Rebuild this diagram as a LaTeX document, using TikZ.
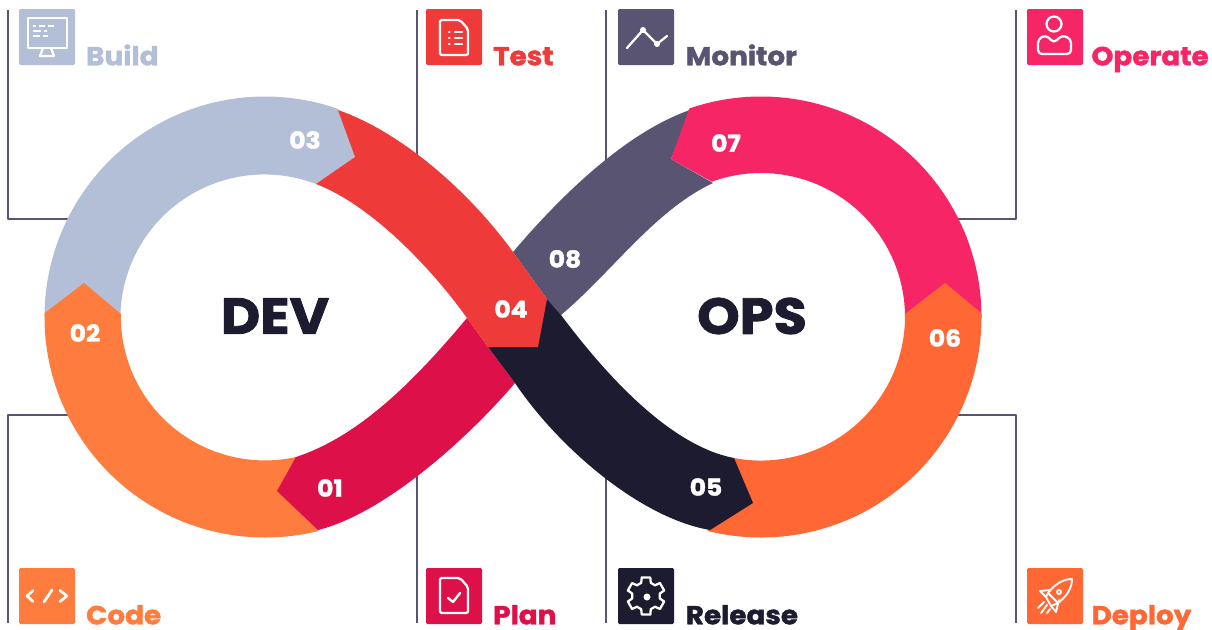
\documentclass[tikz,border=0pt]{standalone}
\usepackage{fontspec}
\usepackage{tikz}
\usetikzlibrary{positioning}
\setmainfont{Poppins}[BoldFeatures={FakeBold=1.6,FakeStretch=1.07}]

\definecolor{planc}{HTML}{DE1049}
\definecolor{codec}{HTML}{FE7C3E}
\definecolor{buildc}{HTML}{B3BFD6}
\definecolor{testc}{HTML}{EE3A38}
\definecolor{releasec}{HTML}{1C1B30}
\definecolor{deployc}{HTML}{FF6735}
\definecolor{operatec}{HTML}{F62565}
\definecolor{monitorc}{HTML}{585472}

\begin{document}
\begin{tikzpicture}[x=.75pt,y=-.75pt,font=\bfseries,line join=round]

\tikzstyle{stepbox}=[draw=none,rounded corners=1pt,minimum size=42pt,inner sep=0pt]
\tikzstyle{steplbl}=[inner sep=0pt,font=\fontsize{19.5}{20}\bfseries]
\tikzstyle{stepnum}=[inner sep=0pt,text=white,font=\fontsize{17.5}{18}\bfseries]
\tikzstyle{sidelbl}=[inner sep=0pt,text=releasec,font=\fontsize{38}{40}\bfseries]
\tikzstyle{leader}=[draw=monitorc,line width=1.1pt]
\tikzstyle{icon}=[draw=white,line width=1.7pt,line cap=round]

\useasboundingbox (0,0) rectangle (1212,629);
\fill[white] (0,0) rectangle (1212,629);

\coordinate (devc) at (265,317);
\coordinate (opsc) at (761,317);

% leader lines
\coordinate (buildtop) at (8,10);       \coordinate (buildend) at (70,219);
\coordinate (codebot) at (8,623);       \coordinate (codeend) at (70,415);
\coordinate (testtop) at (417,10);      \coordinate (testend) at (417,160);
\coordinate (planbot) at (417,623);     \coordinate (planend) at (417,474);
\coordinate (monitortop) at (606,10);   \coordinate (monitorend) at (606,162);
\coordinate (releasebot) at (606,623);  \coordinate (releaseend) at (606,474);
\coordinate (operatetop) at (1016,10);  \coordinate (operateend) at (956,219);
\coordinate (deploybot) at (1016,623);  \coordinate (deployend) at (956,415);
\draw[leader] (buildtop) |- (buildend);
\draw[leader] (codebot) |- (codeend);
\draw[leader] (testtop) -- (testend);
\draw[leader] (planbot) -- (planend);
\draw[leader] (monitortop) -- (monitorend);
\draw[leader] (releasebot) -- (releaseend);
\draw[leader] (operatetop) |- (operateend);
\draw[leader] (deploybot) |- (deployend);

% the loop, back to front
\fill[monitorc] (690,110) .. controls (624,133) and (558,199) .. (513,252) -- (547,299) -- (561,315)
  .. controls (612,272) and (655,210) .. (713,183) -- (671,159) -- cycle;
\fill[operatec] ([shift={(-109:220.5)}]opsc) arc[start angle=-109,end angle=0,radius=220.5]
  -- ([shift={(0:144)}]opsc) arc[start angle=0,end angle=-110,radius=144] -- (671,159) -- cycle;
\fill[buildc] ([shift={(-180:220.5)}]devc) arc[start angle=-180,end angle=-70.6,radius=220.5]
  -- (355,157) -- (316,184) arc[start angle=-69,end angle=-180,radius=144] -- cycle;
\fill[codec] (84,283) -- ([shift={(181:220.5)}]devc) arc[start angle=181,end angle=76,radius=220.5]
  -- (296,457) arc[start angle=77.5,end angle=181,radius=144] -- cycle;
\fill[planc] (277,491) -- (318,530) .. controls (386,513) and (470,436) .. (515,383) -- (488,347) -- (467,318)
  .. controls (415,380) and (360,436) .. (296,457) -- cycle;
\fill[deployc] (945,283) -- ([shift={(-1:220.5)}]opsc) arc[start angle=-1,end angle=104,radius=220.5]
  -- (734,458) arc[start angle=100.8,end angle=-1,radius=144] -- cycle;
\fill[releasec] (561,315) .. controls (597,363) and (665,445) .. (734,458) -- (753,503) -- (710,530)
  .. controls (640,518) and (558,447) .. (515,383) -- (488,347) -- (547,299) -- cycle;
\fill[testc] (338,110) .. controls (404,133) and (472,195) .. (513,252) -- (547,299) -- (538,347) -- (488,347)
  -- (467,318) .. controls (432,269) and (372,205.5) .. (316,184) -- (355,157) -- cycle;

% numbers and the two words
\node[stepnum] (n01) at (330,488) {01};
\node[stepnum] (n02) at (85,333)  {02};
\node[stepnum] (n03) at (305,140) {03};
\node[stepnum] (n04) at (511,309) {04};
\node[stepnum] (n05) at (706,487) {05};
\node[stepnum] (n06) at (945,338) {06};
\node[stepnum] (n07) at (726,143) {07};
\node[stepnum] (n08) at (565,259) {08};
\node[sidelbl] (dev) at (275,316) {DEV};
\node[sidelbl] (ops) at (752,316) {OPS};

% boxes with their names
\node[stepbox,fill=buildc]   (build)   at (47,37)    {};
\node[stepbox,fill=testc]    (test)    at (454,37)   {};
\node[stepbox,fill=monitorc] (monitor) at (646,37)   {};
\node[stepbox,fill=operatec] (operate) at (1055,37)  {};
\node[stepbox,fill=codec]    (code)    at (47,596)   {};
\node[stepbox,fill=planc]    (plan)    at (454,596)  {};
\node[stepbox,fill=releasec] (release) at (646,596)  {};
\node[stepbox,fill=deployc]  (deploy)  at (1055,596) {};

\node[steplbl,text=buildc]   (buildlbl)   [right=8pt of build.south east,anchor=base west]   {Build};
\node[steplbl,text=testc]    (testlbl)    [right=8pt of test.south east,anchor=base west]    {Test};
\node[steplbl,text=monitorc] (monitorlbl) [right=8.5pt of monitor.south east,anchor=base west] {Monitor};
\node[steplbl,text=operatec] (operatelbl) [right=6pt of operate.south east,anchor=base west] {Operate};
\node[steplbl,text=codec]    (codelbl)    [right=8pt of code.south east,anchor=base west]    {Code};
\node[steplbl,text=planc]    (planlbl)    [right=8pt of plan.south east,anchor=base west]    {Plan};
\node[steplbl,text=releasec] (releaselbl) [right=8.5pt of release.south east,anchor=base west] {Release};
\node[steplbl,text=deployc]  (deploylbl)  [right=6pt of deploy.south east,anchor=base west]  {Deploy};

% icons
\begin{scope}[shift={(build.center)},icon]
  \draw (-19,-19) rectangle (20,11);
  \draw (-4,11) -- (-7,19) -- (7,19) -- (4,11);
  \draw[line width=1.3pt,line cap=butt] (-14,-11) -- (-11,-11) (-8,-11) -- (-2,-11) (1,-11) -- (7,-11);
  \draw[line width=1.3pt,line cap=butt] (-14,-6) -- (-6,-6) (-3,-6) -- (0,-6);
  \draw[line width=1.3pt,line cap=butt] (-14,-1) -- (-7,-1) (-4,-1) -- (1,-1);
\end{scope}
\begin{scope}[shift={(test.center)},icon]
  \draw[rounded corners=1.5pt] (-14,-17) -- (6,-17) -- (14,-8) -- (14,18) -- (-14,18) -- cycle;
  \draw (-5,-5) -- (-4.5,-5) (1,-5) -- (8,-5);
  \draw (-5,1) -- (-4.5,1) (1,1) -- (8,1);
  \draw (-5,7) -- (-4.5,7) (1,7) -- (8,7);
\end{scope}
\begin{scope}[shift={(monitor.center)},icon]
  \draw (-19,11) -- (-3,-7) -- (11,7) -- (21,-1);
  \fill[white] (-3,-7) circle (3) (11,7) circle (3);
\end{scope}
\begin{scope}[shift={(operate.center)},icon]
  \draw (-1,-13) circle (7.5);
  \draw[rounded corners=3pt] (-9,-2) -- (-1,6) -- (7,-2) -- (16,2) -- (16,17) -- (-17,17) -- (-17,2) -- cycle;
\end{scope}
\begin{scope}[shift={(code.center)},icon,line width=2pt]
  \draw (-14,-5.5) -- (-20,0) -- (-14,5.5);
  \draw (-3,6) -- (5,-6);
  \draw (13,-5.5) -- (20,0) -- (13,5.5);
\end{scope}
\begin{scope}[shift={(plan.center)},icon]
  \draw[rounded corners=1.5pt] (-14,-18) -- (6,-18) -- (14,-9) -- (14,17) -- (-14,17) -- cycle;
  \draw[line width=1.8pt] (-6,2) -- (-1,6) -- (6,-3);
\end{scope}
\begin{scope}[shift={(release.center)},icon]
  \foreach \a in {30,90,...,330}
    \draw (\a-13:19) -- (\a+13:19) -- (\a+20:14) -- (\a+40:14) -- (\a+47:19);
  \fill[white] (1,1) circle (3.5);
\end{scope}
\begin{scope}[shift={(deploy.center)},icon,line width=1.4pt]
  \draw (17,-17) .. controls (8,-17) and (0,-12) .. (-7,-3) -- (3,7) .. controls (12,0) and (17,-8) .. (17,-17) -- cycle;
  \draw (-5,-6) -- (-15,-5) -- (-9,1) (4,4) -- (1,16) -- (-4,10);
  \draw (-9,1) -- (-4,10) (-7,-3) -- (-9,1) (3,7) -- (-4,10);
  \draw (-17,12) -- (-11,6) (-14,17) -- (-8,9) (-8,17) -- (-5,13);
  \draw (4,-4) circle (2);
\end{scope}
\end{tikzpicture}
\end{document}
